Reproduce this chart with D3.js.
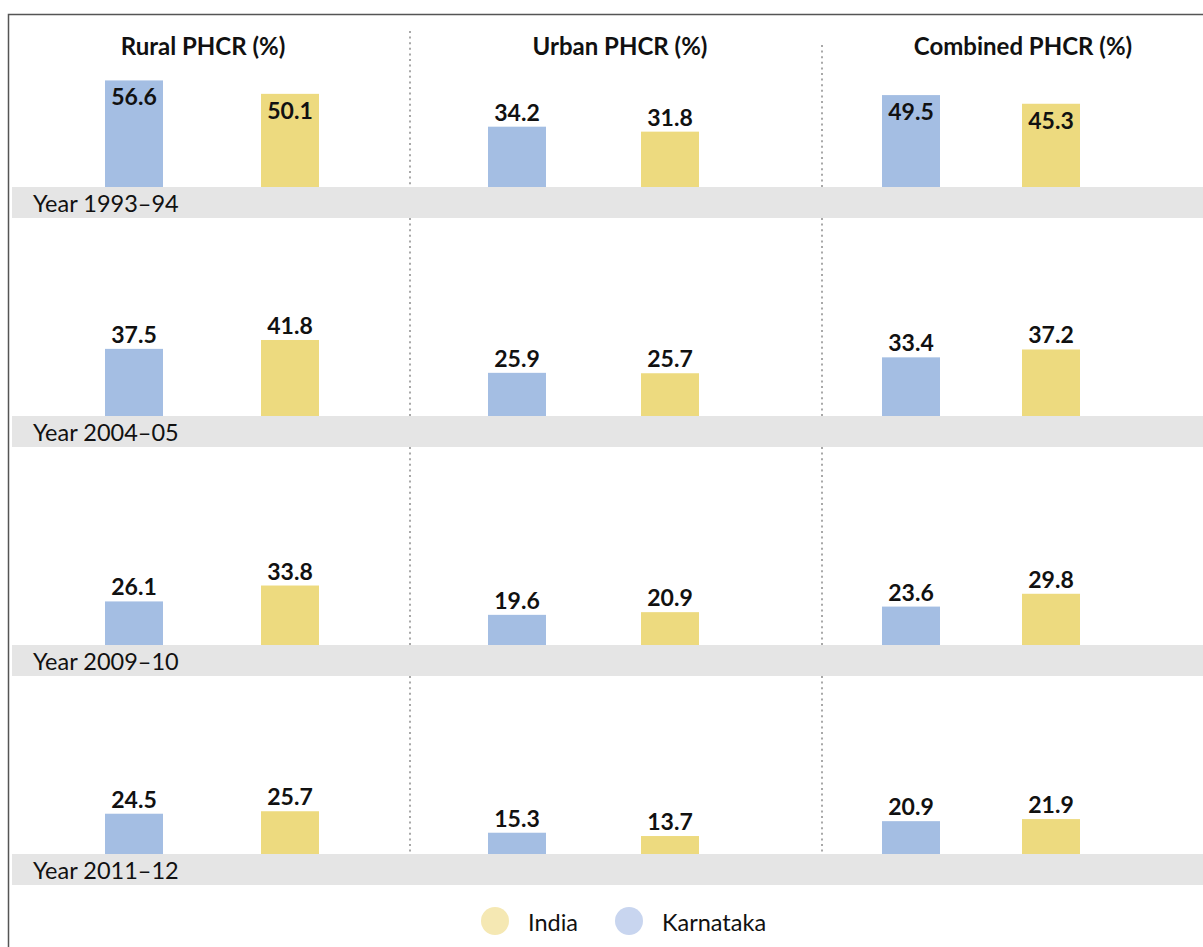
<!DOCTYPE html>
<html>
<head>
<meta charset="utf-8">
<script src="https://cdn.jsdelivr.net/npm/d3@7"></script>
<style>
  html, body { margin: 0; padding: 0; background: #fff; }
  svg { display: block; font-family: Lato, "Noto Sans", sans-serif; }
</style>
</head>
<body>
<svg id="chart" width="1203" height="947"></svg>
<script>
// ---------------- DATA ----------------
const columns = ["Rural PHCR (%)", "Urban PHCR (%)", "Combined PHCR (%)"];
const years = ["Year 1993\u201394", "Year 2004\u201305", "Year 2009\u201310", "Year 2011\u201312"];
const series = ["Karnataka", "India"];
// rows = years, columns = [Rural, Urban, Combined]
const karnataka = [
  [56.6, 34.2, 49.5],
  [37.5, 25.9, 33.4],
  [26.1, 19.6, 23.6],
  [24.5, 15.3, 20.9]
];
const india = [
  [50.1, 31.8, 45.3],
  [41.8, 25.7, 37.2],
  [33.8, 20.9, 29.8],
  [25.7, 13.7, 21.9]
];
const legendItems = ["India", "Karnataka"];

// ---------------- LAYOUT ----------------
const W = 1203, H = 947;
const rowBase = [187, 416, 645, 854];      // top of the grey year band
const bandH = 31;
const colTitleX = [203, 620, 1023];
const colBarRange = [[134, 290], [517, 670], [911, 1051]];
const sepX = [410, 822];
const barW = 58;
const colors = { Karnataka: "#a4bee3", India: "#edda7f" };
const legendColors = { Karnataka: "#c8d5ef", India: "#f5e8b3" };

const svg = d3.select("#chart");

// outer frame
svg.append("rect")
  .attr("x", 8.5).attr("y", 14.5)
  .attr("width", W + 20).attr("height", H + 20)
  .attr("fill", "none").attr("stroke", "#555").attr("stroke-width", 1.5);

// bar height scale (shared)
const h = d3.scaleLinear().domain([5, 60]).range([0, 113.6]);

// grey bands + year labels
years.forEach((yr, i) => {
  svg.append("rect")
    .attr("x", 12).attr("y", rowBase[i])
    .attr("width", W).attr("height", bandH)
    .attr("fill", "#e5e5e5");
  svg.append("text")
    .attr("x", 33).attr("y", rowBase[i] + 25)
    .attr("font-size", 23.5).attr("fill", "#111")
    .text(yr);
});

// dotted separators
const sepSegments = [];
rowBase.forEach((b, i) => {
  const top = i === 0 ? null : rowBase[i - 1] + bandH;
  sepX.forEach((x, j) => {
    const y0 = i === 0 ? (j === 0 ? 31 : 45) : top;
    sepSegments.push({ x, y0, y1: b });
  });
});
svg.selectAll("line.sep").data(sepSegments).join("line")
  .attr("class", "sep")
  .attr("x1", d => d.x).attr("x2", d => d.x)
  .attr("y1", d => d.y0).attr("y2", d => d.y1)
  .attr("stroke", "#a8a8a8").attr("stroke-width", 2)
  .attr("stroke-dasharray", "2,3.6");

// column titles
svg.selectAll("text.coltitle").data(columns).join("text")
  .attr("class", "coltitle")
  .attr("x", (d, i) => colTitleX[i]).attr("y", 55)
  .attr("text-anchor", "middle")
  .attr("font-size", 24).attr("font-weight", 700).attr("fill", "#111")
  .text(d => d);

// bars
const cells = [];
years.forEach((yr, r) => {
  columns.forEach((col, c) => {
    const x = d3.scalePoint().domain(series).range(colBarRange[c]);
    const vals = { Karnataka: karnataka[r][c], India: india[r][c] };
    series.forEach(s => {
      cells.push({ r, c, s, v: vals[s], cx: x(s) });
    });
  });
});

const g = svg.append("g");
g.selectAll("rect.bar").data(cells).join("rect")
  .attr("class", "bar")
  .attr("x", d => d.cx - barW / 2)
  .attr("y", d => rowBase[d.r] - h(d.v))
  .attr("width", barW)
  .attr("height", d => h(d.v))
  .attr("fill", d => colors[d.s]);

g.selectAll("text.val").data(cells).join("text")
  .attr("class", "val")
  .attr("x", d => d.cx)
  .attr("y", d => {
    const top = rowBase[d.r] - h(d.v);
    return h(d.v) > 80 ? top + 25 : top - 6;
  })
  .attr("text-anchor", "middle")
  .attr("font-size", 23).attr("font-weight", 700).attr("fill", "#111")
  .text(d => d3.format(".1f")(d.v));

// legend
const legendX = d3.scalePoint().domain(legendItems).range([495, 629]);
const lg = svg.selectAll("g.leg").data(legendItems).join("g")
  .attr("class", "leg")
  .attr("transform", d => `translate(${legendX(d)},921)`);
lg.append("circle").attr("r", 14).attr("fill", d => legendColors[d]);
lg.append("text").attr("x", 33).attr("y", 10)
  .attr("font-size", 23.5).attr("fill", "#111")
  .text(d => d);
</script>
</body>
</html>
